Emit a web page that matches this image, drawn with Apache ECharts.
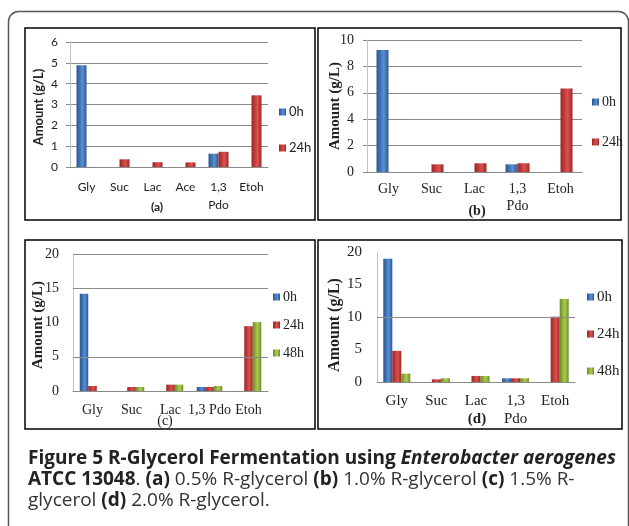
<!DOCTYPE html>
<html><head><meta charset="utf-8">
<script src="https://cdn.jsdelivr.net/npm/echarts@6/dist/echarts.min.js"></script>
<style>html,body{margin:0;padding:0;background:#fff}#c{width:629px;height:526px}</style>
</head><body><div id="c"></div>
<script>
// ---- data ----
const catsA = ['Gly','Suc','Lac','Ace','1,3\nPdo','Etoh'];
const a0h  = [4.88, 0, 0, 0, 0.64, 0];
const a24h = [0, 0.37, 0.23, 0.22, 0.73, 3.44];
const yMaxA = 6, yStepA = 1;

const catsB = ['Gly','Suc','Lac','1,3\nPdo','Etoh'];
const b0h  = [9.24, 0, 0, 0.58, 0];
const b24h = [0, 0.58, 0.66, 0.66, 6.33];
const yMaxB = 10, yStepB = 2;

const catsC = ['Gly','Suc','Lac','1,3 Pdo','Etoh'];
const c0h  = [14.2, 0, 0, 0.58, 0];
const c24h = [0.73, 0.58, 0.93, 0.58, 9.46];
const c48h = [0, 0.58, 0.93, 0.73, 10.05];
const yMaxC = 20, yStepC = 5;
const gridLinesC = [5, 15, 20];

const catsD = ['Gly','Suc','Lac','1,3\nPdo','Etoh'];
const d0h  = [18.96, 0, 0, 0.57, 0];
const d24h = [4.79, 0.41, 0.93, 0.57, 10.05];
const d48h = [1.28, 0.57, 0.93, 0.57, 12.78];
const yMaxD = 20, yStepD = 5;
const gridLinesD = [10];

const legendAB = ['0h','24h'];
const legendCD = ['0h','24h','48h'];

// ---- styles ----
function grad(c1, c2, c3){
  return {type:'linear', x:0, y:0, x2:1, y2:0, colorStops:[
    {offset:0, color:c1},{offset:0.45, color:c2},{offset:0.6, color:c3},{offset:1, color:c1}]};
}
const BLUE = grad('#2a5690', '#4a80c4', '#5a90d2');
const RED  = grad('#9a2624', '#cf4441', '#d9524f');
const GREEN= grad('#6c8a26', '#9cc048', '#a8cb55');
const colorOf = {'0h':BLUE, '24h':RED, '48h':GREEN};

const SANS = 'Lato';
const SERIF = 'Liberation Serif';

function xAx(gi, data, font, size, margin, lh){
  return {type:'category', gridIndex:gi, data:data,
    axisLine:{show:true, lineStyle:{color:'#8a8a8a', width:1}},
    axisTick:{show:false},
    axisLabel:{interval:0, margin:margin, fontFamily:font, fontSize:size, color:'#222', lineHeight:lh}};
}
function yAx(gi, max, step, font, size, margin, split){
  return {type:'value', gridIndex:gi, min:0, max:max, interval:step,
    axisLine:{show:true, lineStyle:{color:'#c4c4c4', width:1}},
    axisTick:{show:split, length:4, lineStyle:{color:'#8a8a8a'}},
    splitLine:{show:split, lineStyle:{color:'#8a8a8a', width:1}},
    axisLabel:{margin:margin, fontFamily:font, fontSize:size, color:'#222'}};
}
function bar(name, gi, data, bw, lines){
  const s = {type:'bar', name:name, xAxisIndex:gi, yAxisIndex:gi, data:data,
    barWidth:bw, barGap:'0%', itemStyle:{color:colorOf[name]}};
  if (lines) {
    s.markLine = {silent:true, symbol:'none', animation:false, label:{show:false},
      lineStyle:{color:'#8a8a8a', type:'solid', width:1},
      data: lines.map(v => ({yAxis:v}))};
  }
  return s;
}
function leg(names, left, top, font, size, gap, lh){
  return {data:names, orient:'vertical', left:left, top:top, itemWidth:7, itemHeight:7,
    itemGap:gap, icon:'rect', selectedMode:false,
    textStyle:{fontFamily:font, fontSize:size, color:'#222', lineHeight:lh, padding:[0,0,0,-2]}};
}

const CAP = '"Open Sans"';
const option = {
  animation:false,
  grid:[
    {left:70, top:42, width:198, height:125, containLabel:false, outerBoundsMode:'none'},
    {left:367, top:40, width:215, height:132, containLabel:false, outerBoundsMode:'none'},
    {left:73, top:254, width:195, height:137, containLabel:false, outerBoundsMode:'none'},
    {left:377, top:252, width:198, height:130, containLabel:false, outerBoundsMode:'none'}
  ],
  xAxis:[
    xAx(0, catsA, SANS, 12, 11, 18),
    xAx(1, catsB, SERIF, 14, 9, 17),
    xAx(2, catsC, SERIF, 14, 11, 17),
    xAx(3, catsD, SERIF, 15, 10, 18)
  ],
  yAxis:[
    yAx(0, yMaxA, yStepA, SANS, 12, 12, true),
    yAx(1, yMaxB, yStepB, SERIF, 14, 13, true),
    yAx(2, yMaxC, yStepC, SERIF, 14, 14, false),
    yAx(3, yMaxD, yStepD, SERIF, 15, 15, false)
  ],
  legend:[
    leg(legendAB, 274, 100, SANS, 13, 22, 14),
    leg(legendAB, 587, 89, SERIF, 14, 24, 16),
    leg(legendCD, 268, 284, SERIF, 14, 12, 16),
    leg(legendCD, 582, 284, SERIF, 15, 21, 16)
  ],
  series:[
    bar('0h', 0, a0h, 10), bar('24h', 0, a24h, 10),
    bar('0h', 1, b0h, 12), bar('24h', 1, b24h, 12),
    bar('0h', 2, c0h, 8.5, gridLinesC), bar('24h', 2, c24h, 8.5), bar('48h', 2, c48h, 8.5),
    bar('0h', 3, d0h, 9, gridLinesD), bar('24h', 3, d24h, 9), bar('48h', 3, d48h, 9)
  ],
  graphic:[
    {type:'rect', z:0, shape:{x:8.5, y:11.5, width:620, height:530, r:10}, style:{fill:'none', stroke:'#555', lineWidth:1.5}},
    {type:'rect', z:0, shape:{x:25, y:28, width:290, height:192}, style:{fill:'none', stroke:'#000', lineWidth:1.5}},
    {type:'rect', z:0, shape:{x:318, y:28, width:303, height:192}, style:{fill:'none', stroke:'#000', lineWidth:1.5}},
    {type:'rect', z:0, shape:{x:25, y:240, width:290, height:189}, style:{fill:'none', stroke:'#000', lineWidth:1.5}},
    {type:'rect', z:0, shape:{x:318, y:240, width:304, height:189}, style:{fill:'none', stroke:'#000', lineWidth:1.5}},
    {type:'text', x:39, y:107, rotation:Math.PI/2, style:{text:'Amount (g/L)', font:'bold 13px '+SANS, fill:'#222', textAlign:'center', textVerticalAlign:'middle'}},
    {type:'text', x:335, y:106, rotation:Math.PI/2, style:{text:'Amount (g/L)', font:'bold 15px "'+SERIF+'"', fill:'#222', textAlign:'center', textVerticalAlign:'middle'}},
    {type:'text', x:38, y:325, rotation:Math.PI/2, style:{text:'Amount (g/L)', font:'bold 15px "'+SERIF+'"', fill:'#222', textAlign:'center', textVerticalAlign:'middle'}},
    {type:'text', x:335, y:325, rotation:Math.PI/2, style:{text:'Amount (g/L)', font:'bold 16px "'+SERIF+'"', fill:'#222', textAlign:'center', textVerticalAlign:'middle'}},
    {type:'text', x:157, y:207, style:{text:'(a)', font:'bold 12px '+SANS, fill:'#222', textAlign:'center', textVerticalAlign:'middle'}},
    {type:'text', x:477, y:211, style:{text:'(b)', font:'bold 14px "'+SERIF+'"', fill:'#222', textAlign:'center', textVerticalAlign:'middle'}},
    {type:'text', x:165, y:421, style:{text:'(c)', font:'14px "'+SERIF+'"', fill:'#222', textAlign:'center', textVerticalAlign:'middle'}},
    {type:'text', x:477, y:419, style:{text:'(d)', font:'bold 15px "'+SERIF+'"', fill:'#222', textAlign:'center', textVerticalAlign:'middle'}},
    {type:'text', x:28, y:448, style:{
      text:'{b|Figure 5 R-Glycerol Fermentation using }{bi|Enterobacter aerogenes}\n'+
           '{b|ATCC 13048}{r|. }{b|(a)}{r| 0.5% R-glycerol }{b|(b)}{r| 1.0% R-glycerol }{b|(c)}{r| 1.5% R-}\n'+
           '{r|glycerol }{b|(d)}{r| 2.0% R-glycerol.}',
      textAlign:'left', textVerticalAlign:'top',
      rich:{
        b:{font:'bold 19px '+CAP, lineHeight:21, fill:'#222'},
        bi:{font:'italic bold 19px '+CAP, lineHeight:21, fill:'#222'},
        r:{font:'19px '+CAP, lineHeight:21, fill:'#333'}
      }}}
  ]
};
const chart = echarts.init(document.getElementById('c'), null, {renderer:'canvas'});
chart.setOption(option);
</script>
</body></html>
